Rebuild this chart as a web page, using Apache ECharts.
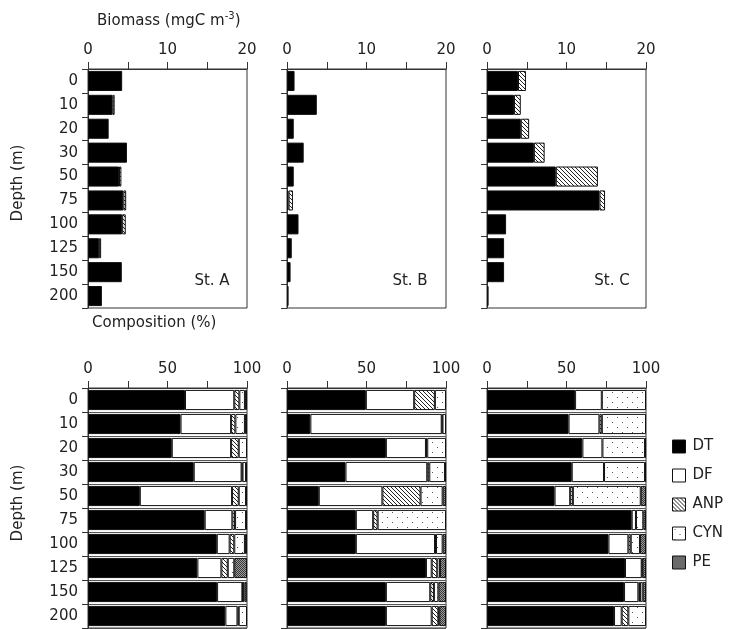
<!DOCTYPE html>
<html><head><meta charset="utf-8">
<script src="https://cdn.jsdelivr.net/npm/echarts@6/dist/echarts.min.js"></script>
<style>html,body{margin:0;padding:0;background:#fff}#c{width:729px;height:629px}</style>
</head><body><div id="c"></div>
<script>
const depths = ['0','10','20','30','50','75','100','125','150','200'];
const groups = ['DT','DF','ANP','CYN','PE'];
const stations = ['St. A','St. B','St. C'];

// Biomass (mgC m-3)
const bioA_DT  = [4.3, 3.1, 2.6, 4.9, 3.9, 4.45, 4.3, 1.4, 4.25, 1.75];
const bioA_ANP = [0, 0.25, 0, 0, 0.3, 0.35, 0.45, 0.25, 0, 0];
const bioB_DT  = [0.95, 3.75, 0.85, 2.1, 0.85, 0.2, 1.45, 0.6, 0.45, 0.2];
const bioB_ANP = [0, 0, 0, 0, 0, 0.55, 0, 0, 0, 0];
const bioC_DT  = [3.9, 3.4, 4.25, 5.9, 8.65, 14.15, 2.4, 2.15, 2.15, 0.2];
const bioC_ANP = [1.0, 0.85, 1.05, 1.35, 5.3, 0.7, 0, 0, 0, 0];

// Composition (%)
const compA_DT  = [61, 58.2, 52.7, 66.5, 32.6, 73.4, 81, 68.8, 81.2, 86.4];
const compA_DF  = [31, 31.8, 37.3, 30.1, 58, 17.4, 8.1, 15.1, 15.9, 7.6];
const compA_ANP = [3.2, 2.7, 4.8, 0.6, 4.2, 1.7, 2.9, 4, 0.3, 0.8];
const compA_CYN = [3.5, 6, 5.2, 2.2, 4.6, 6.9, 6.7, 4.1, 1, 5.2];
const compA_PE  = [1.3, 1.3, 0, 0.6, 0.6, 0.6, 1.3, 8, 1.5, 0];

const compB_DT  = [49.6, 14.7, 62.2, 36.8, 20, 43.3, 43.3, 87.4, 62.2, 62.2];
const compB_DF  = [30.4, 82.6, 25.2, 51.4, 40, 10.9, 49.8, 3.6, 27.9, 28.8];
const compB_ANP = [13, 0.5, 0.8, 1.3, 24, 2.8, 0.6, 3.5, 2.3, 4.2];
const compB_CYN = [7, 2.2, 11.8, 9.9, 13.9, 43, 4.2, 1.7, 2.8, 0.6];
const compB_PE  = [0, 0, 0, 0.6, 2.1, 0, 2.1, 3.8, 4.8, 4.2];

const compC_DT  = [55.4, 51.3, 60, 53.3, 42.5, 91, 76.4, 86.8, 86.2, 79.9];
const compC_DF  = [16.8, 19.4, 12.6, 20.3, 9.8, 2.7, 12.5, 10.5, 9, 4.8];
const compC_ANP = [0, 1.5, 0, 0, 1.7, 0, 1.5, 0, 1, 4.2];
const compC_CYN = [27.8, 27.8, 26.8, 25.8, 42.7, 4.6, 5.8, 0.5, 1.7, 11.1];
const compC_PE  = [0, 0, 0.6, 0.6, 3.3, 1.7, 3.8, 2.2, 2.1, 0];

const bioTicks = [0, 10, 20];
const compTicks = [0, 50, 100];

function makeCanvas(w, h, draw) {
  const c = document.createElement('canvas'); c.width = w; c.height = h;
  const g = c.getContext('2d'); draw(g, w, h); return c;
}
const hatch = makeCanvas(4, 4, (g, w, h) => {
  g.fillStyle = '#fff'; g.fillRect(0, 0, w, h);
  g.strokeStyle = '#222'; g.lineWidth = 1;
  for (let k = -1; k <= 1; k++) { g.beginPath(); g.moveTo(k * w, 0); g.lineTo(k * w + w, h); g.stroke(); }
});
const dots = makeCanvas(10, 10, (g) => {
  g.fillStyle = '#fff'; g.fillRect(0, 0, 10, 10);
  g.fillStyle = '#555'; g.fillRect(2, 2, 1, 1); g.fillRect(7, 7, 1, 1);
});
const stipple = makeCanvas(2, 2, (g) => {
  g.fillStyle = '#9a9a9a'; g.fillRect(0, 0, 2, 2);
  g.fillStyle = '#3a3a3a'; g.fillRect(0, 0, 1, 1); g.fillRect(1, 1, 1, 1);
});
const fills = {
  DT: '#000',
  DF: '#fff',
  ANP: { image: hatch, repeat: 'repeat' },
  CYN: { image: dots, repeat: 'repeat' },
  PE: { image: stipple, repeat: 'repeat' }
};

const FONT = 'DejaVu Sans';
const TXT = '#222';
const topLefts = [88, 287, 487];
const botLefts = [88, 287, 487];
const grids = [], xAxes = [], yAxes = [], series = [];

const bioData = [
  { DT: bioA_DT, ANP: bioA_ANP },
  { DT: bioB_DT, ANP: bioB_ANP },
  { DT: bioC_DT, ANP: bioC_ANP }
];
const compData = [
  { DT: compA_DT, DF: compA_DF, ANP: compA_ANP, CYN: compA_CYN, PE: compA_PE },
  { DT: compB_DT, DF: compB_DF, ANP: compB_ANP, CYN: compB_CYN, PE: compB_PE },
  { DT: compC_DT, DF: compC_DF, ANP: compC_ANP, CYN: compC_CYN, PE: compC_PE }
];

function addPanel(idx, left, top, height, max, interval, ticks, showYLabels, split, data) {
  grids.push({ left: left, top: top, width: 159, height: height, show: true, borderColor: '#333', borderWidth: 1, containLabel: false });
  xAxes.push({
    gridIndex: idx, type: 'value', position: 'top', min: 0, max: max, interval: interval,
    axisLine: { show: true, lineStyle: { color: '#333', width: 1 } },
    axisTick: { show: true, length: 7, lineStyle: { color: '#333' } },
    axisLabel: { show: true, margin: 11, fontFamily: FONT, fontSize: 15, color: TXT,
      formatter: v => (ticks.indexOf(v) >= 0 ? String(v) : '') },
    splitLine: { show: false }
  });
  yAxes.push({
    gridIndex: idx, type: 'category', data: depths, inverse: true,
    axisLine: { show: true, lineStyle: { color: '#333', width: 1 } },
    axisTick: { show: true, length: 6, interval: 0, lineStyle: { color: '#333' } },
    axisLabel: { show: showYLabels, interval: 0, margin: 10, fontFamily: FONT, fontSize: 15, color: TXT },
    splitLine: { show: split, interval: 0, lineStyle: { color: '#555', width: 1 } }
  });
  Object.keys(data).forEach(k => {
    series.push({
      name: k, type: 'bar', stack: 's' + idx, xAxisIndex: idx, yAxisIndex: idx,
      barCategoryGap: '16%',
      data: data[k].map(v => (v > 0 ? v : null)),
      itemStyle: { color: fills[k], borderColor: '#111', borderWidth: 1 },
      emphasis: { disabled: true }, animation: false
    });
  });
}

for (let i = 0; i < 3; i++) {
  addPanel(i, topLefts[i], 69, 239, 20, 5, bioTicks, i === 0, false, bioData[i]);
}
for (let i = 0; i < 3; i++) {
  addPanel(3 + i, botLefts[i], 388, 240, 100, 25, compTicks, i === 0, true, compData[i]);
}

const textStyleBase = { fontFamily: FONT, fontSize: 15, fill: TXT };
const graphics = [
  { type: 'text', left: 97, top: 9, style: { text: '{b|Biomass (mgC m}{sup|-3}{b|)}',
      rich: { b: { fontSize: 15, fontFamily: FONT, fill: TXT, lineHeight: 20, verticalAlign: 'bottom' },
              sup: { fontSize: 10, fontFamily: FONT, fill: TXT, lineHeight: 10, verticalAlign: 'top', padding: [2, 0, 0, 0] } },
      fontFamily: FONT, fontSize: 15, fill: TXT } },
  { type: 'text', left: 92, top: 316, style: Object.assign({ text: 'Composition (%)' }, textStyleBase) },
  { type: 'text', x: 18, y: 183, rotation: Math.PI / 2, style: Object.assign({ text: 'Depth (m)', align: 'center', verticalAlign: 'middle' }, textStyleBase) },
  { type: 'text', x: 18, y: 503, rotation: Math.PI / 2, style: Object.assign({ text: 'Depth (m)', align: 'center', verticalAlign: 'middle' }, textStyleBase) }
];
const stX = [212, 410, 612];
stations.forEach((s, i) => {
  graphics.push({ type: 'text', x: stX[i], y: 281, style: Object.assign({ text: s, align: 'center', verticalAlign: 'middle' }, textStyleBase) });
});

const chart = echarts.init(document.getElementById('c'), null, { renderer: 'canvas' });
chart.setOption({
  animation: false,
  backgroundColor: '#fff',
  grid: grids, xAxis: xAxes, yAxis: yAxes, series: series,
  legend: {
    data: groups, orient: 'vertical', left: 667, top: 434, itemWidth: 13, itemHeight: 13, itemGap: 14,
    icon: 'rect', selectedMode: false,
    itemStyle: { borderColor: '#111', borderWidth: 1 },
    textStyle: { fontFamily: FONT, fontSize: 15, color: TXT, padding: [0, 0, 0, 2] }
  },
  graphic: graphics
});
</script></body></html>
